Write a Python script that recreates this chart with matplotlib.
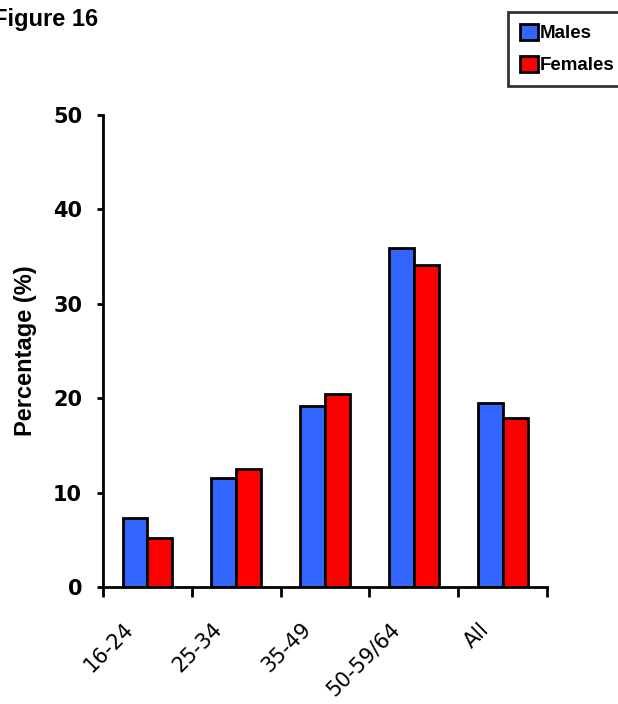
import matplotlib.pyplot as plt
import matplotlib.transforms as mtransforms
import numpy as np
from matplotlib.patches import Patch

categories = ["16-24", "25-34", "35-49", "50-59/64", "All"]
males = [7.3, 11.5, 19.2, 35.9, 19.5]
females = [5.2, 12.5, 20.4, 34.1, 17.9]
yticks = [0, 10, 20, 30, 40, 50]

plt.rcParams['font.family'] = ['Liberation Sans', 'DejaVu Sans']

fig = plt.figure(figsize=(6.18, 7.04), dpi=100)
ax = fig.add_axes([0.1667, 0.166, 0.7185, 0.671])

x = np.arange(len(categories))
w = 0.28
ax.bar(x - w / 2, males, w, color="#3366FF", edgecolor="black", linewidth=2)
ax.bar(x + w / 2, females, w, color="#FF0000", edgecolor="black", linewidth=2)

ax.set_xlim(-0.5, len(categories) - 0.5)
ax.set_ylim(0, 50)
ax.set_yticks(yticks)
ax.set_yticklabels([str(v) for v in yticks], fontsize=15, fontweight="bold",
                   family="DejaVu Sans")

# ticks on category boundaries, labels at centres
ax.set_xticks(np.arange(len(categories) + 1) - 0.5)
ax.set_xticklabels([])
ax.set_xticks(x, minor=True)
ax.set_xticklabels(categories, minor=True, rotation=45, ha="right",
                   rotation_mode="anchor", fontsize=15, family="DejaVu Sans")
ax.tick_params(axis="x", which="minor", length=0, pad=20)
ax.tick_params(axis="x", which="major", length=7, width=2, direction="out")
ax.tick_params(axis="y", length=4, width=2, direction="out", pad=11)

offset = mtransforms.ScaledTranslation(-24 / 100, -4 / 100, fig.dpi_scale_trans)
for lab in ax.get_xticklabels(minor=True):
    lab.set_transform(lab.get_transform() + offset)

for s in ["top", "right"]:
    ax.spines[s].set_visible(False)
for s in ["left", "bottom"]:
    ax.spines[s].set_linewidth(2)

ax.set_ylabel("Percentage (%)", fontsize=17, fontweight="bold")
ax.yaxis.set_label_coords(-0.149, 0.5)

fig.text(-0.012, 0.972, "Figure 16", fontsize=17, fontweight="bold", va="center")

handles = [Patch(facecolor="#3366FF", edgecolor="black", linewidth=2),
           Patch(facecolor="#FF0000", edgecolor="black", linewidth=2)]
leg = fig.legend(handles, ["Males", "Females"], loc="upper left",
                 bbox_to_anchor=(0.822, 0.983), frameon=True, fancybox=False,
                 edgecolor="black", handlelength=1.0, handleheight=1.0,
                 handletextpad=0.1, borderpad=0.62, labelspacing=0.7,
                 borderaxespad=0, prop={"weight": "bold", "size": 13.5})
leg.get_frame().set_linewidth(2)

fig.savefig("out.png", dpi=100)
